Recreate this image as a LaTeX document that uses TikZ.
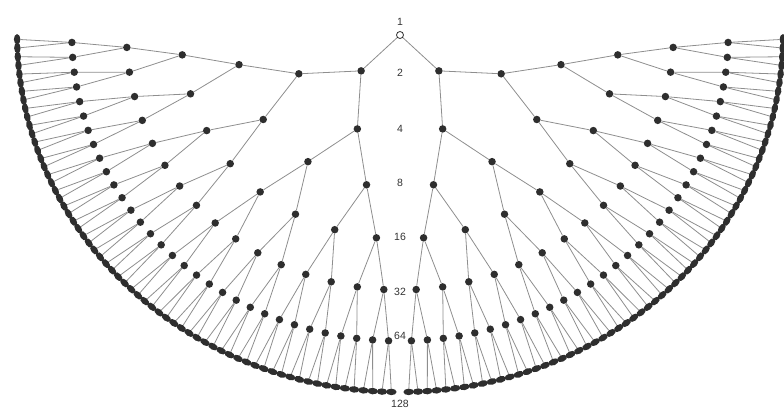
\documentclass[tikz,border=0pt]{standalone}
\usepackage{fontspec}
\setmainfont{Liberation Sans}
\usetikzlibrary{backgrounds,shapes.geometric}
\definecolor{dotgray}{HTML}{2E2E2E}
\definecolor{edgegray}{HTML}{8E8E8E}
\definecolor{labelgray}{HTML}{333333}
\begin{document}
\begin{tikzpicture}[x=1pt,y=-1pt,
  dot/.style={circle,fill=dotgray,inner sep=0pt,minimum size=7.5pt},
  leaf/.style={ellipse,fill=dotgray,inner sep=0pt,minimum width=10.5pt,minimum height=6.5pt},
  rootdot/.style={circle,draw=dotgray,fill=white,line width=0.8pt,inner sep=0pt,minimum size=7pt},
  edge/.style={draw=edgegray,line width=0.8pt},
  lvl/.style={font=\fontsize{10.5}{10.5}\selectfont,text=labelgray,inner sep=1pt}]
\useasboundingbox (0,0) rectangle (784,412);
\node[rootdot] (n-0-0) at (400,35) {};
\foreach \k in {1,...,7} {
  \pgfmathtruncatemacro{\N}{2^\k}
  \pgfmathtruncatemacro{\M}{\N-1}
  \foreach \i in {0,...,\M} {
    \pgfmathsetmacro{\angA}{(\i+0.5)/\N*180}
    \pgfmathsetmacro{\angB}{\angA<90 ? \angA*0.993333 : 180-(180-\angA)*0.993333}
    \pgfmathsetmacro{\xx}{400-54.7*\k*cos(\angB)}
    \pgfmathsetmacro{\yy}{35+51*\k*sin(\angB)}
    \ifnum\k=7
      \node[leaf,rotate=\angB-90] (n-\k-\i) at (\xx,\yy) {};
    \else
      \node[dot] (n-\k-\i) at (\xx,\yy) {};
    \fi
  }
}
\begin{pgfonlayer}{background}
\foreach \k in {1,...,7} {
  \pgfmathtruncatemacro{\N}{2^\k}
  \pgfmathtruncatemacro{\M}{\N-1}
  \pgfmathtruncatemacro{\p}{\k-1}
  \foreach \i in {0,...,\M} {
    \pgfmathtruncatemacro{\j}{floor(\i/2)}
    \draw[edge] (n-\p-\j) -- (n-\k-\i);
  }
}
\end{pgfonlayer}
\node[lvl] (l1) at (400,22) {1};
\node[lvl] (l2) at (400,73) {2};
\node[lvl] (l4) at (400,129) {4};
\node[lvl] (l8) at (400,183) {8};
\node[lvl] (l16) at (400,237) {16};
\node[lvl] (l32) at (400,292) {32};
\node[lvl] (l64) at (400,336) {64};
\node[lvl] (l128) at (400,404) {128};
\end{tikzpicture}
\end{document}
